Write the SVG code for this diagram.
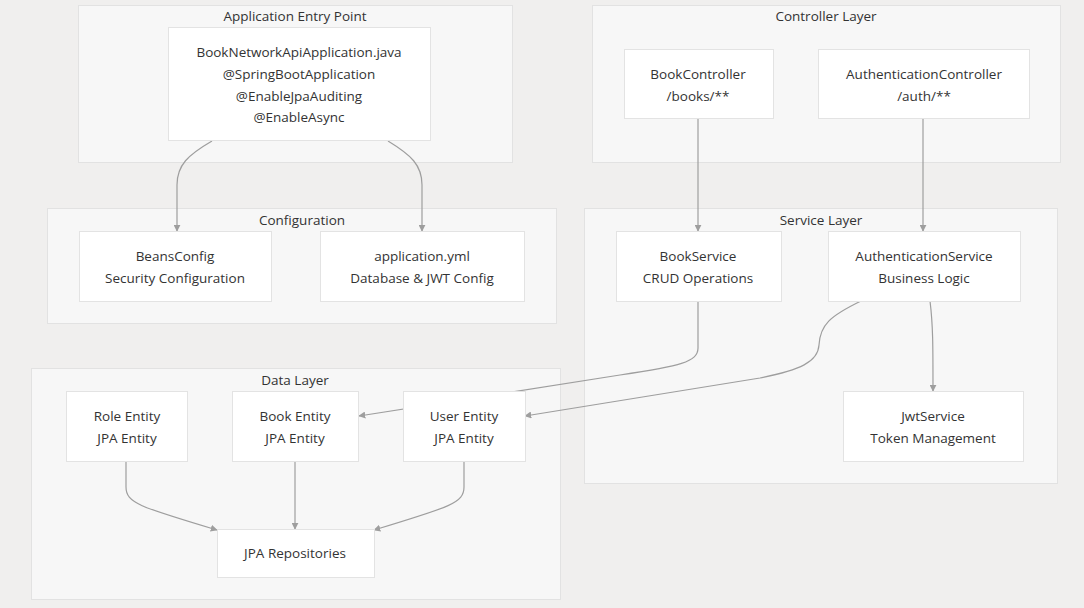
<svg xmlns="http://www.w3.org/2000/svg" width="1084" height="608" viewBox="0 0 1084 608">
<style>
.bg{fill:#f0efee}
.cl{fill:#f7f7f7;stroke:#e2e2e2;stroke-width:1}
.nd{fill:#ffffff;stroke:#e3e3e3;stroke-width:1}
text{font-family:"Open Sans","Noto Sans","Liberation Sans",sans-serif;font-size:13.5px;fill:#333;text-anchor:middle;dominant-baseline:central}
.e{fill:none;stroke:#9e9e9e;stroke-width:1.2}
</style>
<defs>
<marker id="ah" viewBox="0 0 10 10" refX="9" refY="5" markerWidth="7" markerHeight="7" orient="auto" markerUnits="userSpaceOnUse">
<path d="M0,0 L10,5 L0,10 z" fill="#9e9e9e"/>
</marker>
</defs>
<rect class="bg" x="0" y="0" width="1084" height="608"/>
<g id="clusters">
<g id="cluster-entry"><rect class="cl" x="78.5" y="5.5" width="434" height="157"/><text x="295" y="16">Application Entry Point</text></g>
<g id="cluster-controller"><rect class="cl" x="592.5" y="5.5" width="468" height="157"/><text x="826" y="16">Controller Layer</text></g>
<g id="cluster-config"><rect class="cl" x="47.5" y="208.5" width="509" height="115"/><text x="302" y="220">Configuration</text></g>
<g id="cluster-service"><rect class="cl" x="584.5" y="208.5" width="473" height="275"/><text x="821" y="220">Service Layer</text></g>
<g id="cluster-data"><rect class="cl" x="31.5" y="368.5" width="529" height="231"/><text x="295" y="380">Data Layer</text></g>
</g>
<g id="edges">
<path class="e" d="M212,141 C188,155 177,165 177,185 L177,231" marker-end="url(#ah)"/>
<path class="e" d="M388,141 C411,155 422,165 422,185 L422,231" marker-end="url(#ah)"/>
<path class="e" d="M698,118 L698,231" marker-end="url(#ah)"/>
<path class="e" d="M923,118 L923,231" marker-end="url(#ah)"/>
<path class="e" d="M930,301 C933,325 933,345 933,391" marker-end="url(#ah)"/>
<path class="e" d="M698,301 L698,348 C698,362 680,366 620,375 L359,416" marker-end="url(#ah)"/>
<path class="e" d="M861,301 C830,316 820,325 819,345 C818,362 800,370 760,378 L525,416" marker-end="url(#ah)"/>
<path class="e" d="M126,461 L126,487 C126,503 140,507 217,530" marker-end="url(#ah)"/>
<path class="e" d="M295,461 L295,529" marker-end="url(#ah)"/>
<path class="e" d="M464,461 L464,487 C464,503 450,507 374,530" marker-end="url(#ah)"/>
</g>
<g id="node-app"><rect class="nd" x="168.5" y="27.5" width="262" height="113"/>
<text x="299" y="52">BookNetworkApiApplication.java</text><text x="299" y="74">@SpringBootApplication</text><text x="299" y="96">@EnableJpaAuditing</text><text x="299" y="117">@EnableAsync</text></g>
<g id="node-bookcontroller"><rect class="nd" x="624.5" y="49.5" width="149" height="69"/><text x="698" y="74">BookController</text><text x="698" y="96">/books/**</text></g>
<g id="node-authcontroller"><rect class="nd" x="818.5" y="49.5" width="211" height="69"/><text x="924" y="74">AuthenticationController</text><text x="924" y="96">/auth/**</text></g>
<g id="node-beansconfig"><rect class="nd" x="79.5" y="231.5" width="192" height="70"/><text x="175" y="256">BeansConfig</text><text x="175" y="278">Security Configuration</text></g>
<g id="node-appyml"><rect class="nd" x="320.5" y="231.5" width="204" height="70"/><text x="422" y="256">application.yml</text><text x="422" y="278">Database &amp; JWT Config</text></g>
<g id="node-bookservice"><rect class="nd" x="616.5" y="231.5" width="165" height="70"/><text x="698" y="256">BookService</text><text x="698" y="278">CRUD Operations</text></g>
<g id="node-authservice"><rect class="nd" x="828.5" y="231.5" width="192" height="70"/><text x="924" y="256">AuthenticationService</text><text x="924" y="278">Business Logic</text></g>
<g id="node-jwtservice"><rect class="nd" x="843.5" y="391.5" width="180" height="70"/><text x="933" y="416">JwtService</text><text x="933" y="438">Token Management</text></g>
<g id="node-role"><rect class="nd" x="66.5" y="391.5" width="121" height="70"/><text x="127" y="416">Role Entity</text><text x="127" y="438">JPA Entity</text></g>
<g id="node-book"><rect class="nd" x="232.5" y="391.5" width="126" height="70"/><text x="295" y="416">Book Entity</text><text x="295" y="438">JPA Entity</text></g>
<g id="node-user"><rect class="nd" x="403.5" y="391.5" width="122" height="70"/><text x="464" y="416">User Entity</text><text x="464" y="438">JPA Entity</text></g>
<g id="node-repos"><rect class="nd" x="217.5" y="529.5" width="157" height="48"/><text x="295" y="553">JPA Repositories</text></g>
</svg>
